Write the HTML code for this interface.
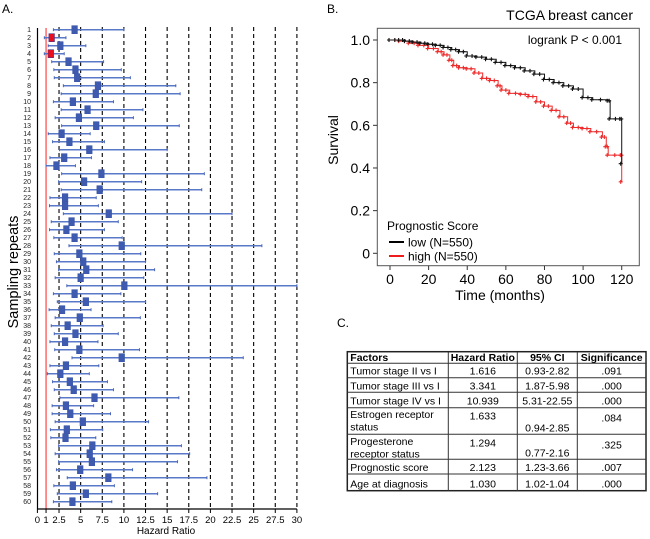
<!DOCTYPE html>
<html><head><meta charset="utf-8"><style>
html,body{margin:0;padding:0;background:#fff;}
svg{display:block;font-family:"Liberation Sans",Arial,sans-serif;}
</style></head><body>
<svg id="fig" width="650" height="539" viewBox="0 0 650 539">
<text x="2" y="13" font-size="12">A.</text>
<text x="327" y="13" font-size="12">B.</text>
<text x="337" y="327" font-size="12">C.</text>
<g id="forest"></g>
<g id="km"></g>
<g id="tbl"></g>
</svg>
<script>
// ---------- Panel A data ----------
const hrValues=[4.3,1.65,2.65,1.55,3.6,4.4,4.6,7.0,6.75,4.1,5.8,4.8,6.8,2.8,3.7,6.0,3.1,2.2,7.4,5.4,7.2,3.2,3.2,8.25,3.95,3.35,4.3,9.75,4.85,5.3,5.65,5.0,10.05,4.3,5.6,2.85,4.9,3.5,4.4,3.2,4.85,9.75,3.3,2.65,3.75,4.2,6.6,3.3,3.8,5.25,3.4,3.25,6.35,6.05,6.3,4.95,8.2,4.1,5.6,4.05];
const ciLower=[1.85,0.8,1.25,0.8,1.65,1.9,1.95,3.0,2.75,1.85,2.75,2.05,2.8,1.25,1.75,2.55,1.45,1.0,2.8,2.45,2.75,1.45,1.4,3.0,1.6,1.4,1.9,3.65,1.95,2.2,2.45,2.05,3.4,1.85,2.3,1.35,2.05,1.6,1.95,1.45,2.0,4.0,1.45,1.15,1.75,1.95,2.6,1.7,1.7,2.05,1.5,1.55,2.45,2.05,2.45,2.2,3.45,1.9,2.3,1.85];
const ciUpper=[10.0,3.3,5.6,3.1,7.65,9.7,10.75,16.0,16.5,8.8,12.2,11.1,16.4,6.1,7.75,15.0,6.25,4.4,19.3,12.05,19.0,6.8,7.05,22.5,9.35,7.75,9.8,25.95,11.95,12.5,13.55,12.3,30,9.65,12.5,6.2,11.9,7.6,9.35,7.0,11.8,23.8,7.1,6.0,8.1,8.8,16.35,6.5,8.45,12.85,7.55,6.75,16.65,17.6,16.2,11.0,19.6,8.9,13.9,8.6];
const xTicks=[0,1,2.5,5,7.5,10,12.5,15,17.5,20,22.5,25,27.5,30];
const xTickLabels=["0","1","2.5","5","7.5","10","12.5","15","17.5","20","22.5","25","27.5","30"];
const gridVals=[2.5,5,7.5,10,12.5,15,17.5,20,22.5,25,27.5,30];
const redRows=[2,4];
// ---------- Panel B data ----------
const lowT=[0,5,8,12,16,20,24,28,32,36,40,45,50,55,60,65,70,75,80,85,90,95,100,105,113,114,119.5,120];
const lowS=[1,1,0.995,0.99,0.985,0.98,0.975,0.965,0.955,0.945,0.925,0.92,0.91,0.895,0.88,0.87,0.855,0.84,0.815,0.8,0.785,0.77,0.73,0.72,0.715,0.63,0.63,0.42];
const highT=[0,5,10,15,20,25,28,31,33,36,40,44,48,52,56,58,62,68,72,76,80,84,88,92,95,100,104,110,112,113,119.8,120];
const highS=[1,0.995,0.985,0.975,0.96,0.945,0.93,0.905,0.88,0.87,0.865,0.845,0.82,0.81,0.785,0.765,0.75,0.745,0.735,0.71,0.69,0.67,0.64,0.61,0.59,0.585,0.57,0.545,0.5,0.46,0.46,0.335];
const kmXTicks=[0,20,40,60,80,100,120];
const kmYTicks=[0,0.2,0.4,0.6,0.8,1.0];
const kmYLabels=["0","0.2","0.4","0.6","0.8","1.0"];
// ---------- Panel C data ----------
const tblHeader=["Factors","Hazard Ratio","95% CI","Significance"];
const tblFactors=[["Tumor stage II vs I"],["Tumor stage III vs I"],["Tumor stage IV vs I"],["Estrogen receptor","status"],["Progesterone","receptor status"],["Prognostic score"],["Age at diagnosis"]];
const tblHR=["1.616","3.341","10.939","1.633","1.294","2.123","1.030"];
const tblCI=["0.93-2.82","1.87-5.98","5.31-22.55","0.94-2.85","0.77-2.16","1.23-3.66","1.02-1.04"];
const tblSig=[".091",".000",".000",".084",".325",".007",".000"];

const NS="http://www.w3.org/2000/svg";
function mk(tag,attrs,parent){const e=document.createElementNS(NS,tag);for(const k in attrs)e.setAttribute(k,attrs[k]);parent.appendChild(e);return e;}

// ---------- Panel A ----------
(function(){
const g=document.getElementById('forest');
const x=v=>37.4+v*8.65;
const y=i=>29.7+i*8.0;
const top=27,bot=509;
gridVals.forEach(v=>{
 const l=mk('line',{x1:x(v),x2:x(v),y1:top,y2:bot,stroke:'#000','stroke-width':1.1,'stroke-dasharray':'4,3'},g);
 
 
});
const rl=mk('line',{x1:x(1),x2:x(1),y1:28,y2:bot,stroke:'#ff2020','stroke-width':1},g);


const ya=mk('line',{x1:37.5,x2:37.5,y1:28,y2:bot,stroke:'#000','stroke-width':1.2},g);


const xa=mk('line',{x1:37,x2:x(30),y1:bot,y2:bot,stroke:'#000','stroke-width':1.2},g);


xTicks.forEach((v,i)=>{
 const t=mk('line',{x1:x(v),x2:x(v),y1:bot,y2:bot+4,stroke:'#000','stroke-width':1},g);
 
 
 const tx=mk('text',{x:x(v),y:523,'font-size':9.5,'text-anchor':'middle'},g);
 tx.textContent=xTickLabels[i];
 
 
});
const xt=mk('text',{x:166,y:534,'font-size':10,'text-anchor':'middle'},g);
xt.textContent='Hazard Ratio';


const yt=mk('text',{x:0,y:0,'font-size':14.5,'text-anchor':'middle',transform:'translate(18,272) rotate(-90)'},g);
yt.textContent='Sampling repeats';


hrValues.forEach((hr,i)=>{
 const yy=y(i);
 const lb=mk('text',{x:31,y:yy+2.5,'font-size':7,'text-anchor':'end',fill:'#222'},g);
 lb.textContent=String(i+1);
 
 
 const ci=mk('line',{x1:x(ciLower[i]),x2:x(ciUpper[i]),y1:yy,y2:yy,stroke:'#5a78c8','stroke-width':1.5},g);
 
 
 [ciLower[i],ciUpper[i]].forEach(v=>{
  const c=mk('line',{x1:x(v),x2:x(v),y1:yy-1.5,y2:yy+1.5,stroke:'#4a68b8','stroke-width':1},g);
  
  
 });
 const red=redRows.includes(i+1);
 const b=mk('rect',{x:x(hr)-2.8,y:yy-4,width:5.6,height:8,fill:red?'#e8101e':'#3f5bb0',stroke:red?'#4a3a8a':'#3a55a8','stroke-width':0.6},g);
 
 
});
})();

// ---------- Panel B ----------
(function(){
const g=document.getElementById('km');
const x=t=>390+t*1.931;
const y=s=>253.3-s*213.3;
const fr=mk('rect',{x:377.3,y:28.3,width:262,height:237.4,fill:'none',stroke:'#555','stroke-width':1},g);


kmXTicks.forEach(v=>{
 const t=mk('line',{x1:x(v),x2:x(v),y1:265.7,y2:270,stroke:'#333'},g);
 
 
 const tx=mk('text',{x:x(v),y:284,'font-size':14,'text-anchor':'middle'},g);
 tx.textContent=String(v);
 
 
});
kmYTicks.forEach((v,i)=>{
 const t=mk('line',{x1:373,x2:377.3,y1:y(v),y2:y(v),stroke:'#333'},g);
 
 
 const tx=mk('text',{x:370,y:y(v)+5,'font-size':14,'text-anchor':'end'},g);
 tx.textContent=kmYLabels[i];
 
 
});
const xt=mk('text',{x:500,y:300,'font-size':14,'text-anchor':'middle'},g);
xt.textContent='Time (months)';


const yt=mk('text',{x:0,y:0,'font-size':14,'text-anchor':'middle',transform:'translate(338,140) rotate(-90)'},g);
yt.textContent='Survival';


const ti=mk('text',{x:633,y:20,'font-size':14,'text-anchor':'end'},g);
ti.textContent='TCGA breast cancer';


const lr=mk('text',{x:622,y:44,'font-size':12,'text-anchor':'end'},g);
lr.textContent='logrank P < 0.001';


function mark(cx,cy,col,name){
 const c=mk('path',{d:'M'+(cx-2)+','+cy+' h4 M'+cx+','+(cy-2)+' v4',stroke:col,'stroke-width':1.1},g);
 
 
}
function curve(T,S,col,name){
 let d='M'+x(T[0])+','+y(S[0]);
 for(let i=1;i<T.length;i++){d+=' H'+x(T[i])+' V'+y(S[i]);}
 const p=mk('path',{d:d,fill:'none',stroke:col,'stroke-width':1},g);
 
 
 for(let i=0;i<T.length;i++){
  mark(x(T[i])-1,y(S[i]),col,name);
  if(i<T.length-1){mark((x(T[i])+x(T[i+1]))/2,y(S[i]),col,name);}
 }
}
curve(highT,highS,'#ee2a2a','high');
curve(lowT,lowS,'#111','low');
const lg=mk('text',{x:387,y:230,'font-size':12},g);
lg.textContent='Prognostic Score';


[['#000','low (N=550)',242,'legend-low'],['#ee1c1c','high (N=550)',256,'legend-high']].forEach(a=>{
 const l=mk('line',{x1:389,x2:404,y1:a[2],y2:a[2],stroke:a[0],'stroke-width':2},g);
 
 
 const t=mk('text',{x:408,y:a[2]+4.5,'font-size':12},g);
 t.textContent=a[1];
 
 
});
})();

// ---------- Panel C ----------
(function(){
const g=document.getElementById('tbl');
const cols=[347.3,448.3,517.3,577.3,646];
const rows=[351.7,363.3,377.7,392.3,407.7,434.3,459.3,474,490.7];
const bg=mk('rect',{x:cols[0],y:rows[0],width:cols[4]-cols[0],height:rows[8]-rows[0],fill:'#fff',stroke:'#222','stroke-width':1.5},g);


for(let i=1;i<8;i++){const l=mk('line',{x1:cols[0],x2:cols[4],y1:rows[i],y2:rows[i],stroke:'#333','stroke-width':1},g);}
for(let j=1;j<4;j++){const l=mk('line',{x1:cols[j],x2:cols[j],y1:rows[0],y2:rows[8],stroke:'#333','stroke-width':1},g);}
tblHeader.forEach((h,j)=>{
 const t=mk('text',{x:j===0?cols[0]+3:(cols[j]+cols[j+1])/2,y:rows[1]-2.5,'font-size':10.5,'font-weight':'bold','text-anchor':j===0?'start':'middle'},g);
 t.textContent=h;
 
 
});
tblFactors.forEach((f,i)=>{
 const r0=rows[i+1],r1=rows[i+2];
 if(f.length===1){
  const t=mk('text',{x:cols[0]+3,y:r1-3,'font-size':10.5},g);t.textContent=f[0];
  
 }else{
  f.forEach((s,k)=>{const t=mk('text',{x:cols[0]+3,y:r0+10.5+k*12.5,'font-size':10.5},g);t.textContent=s;
  });
 }
 const two=f.length>1;
 const vals=[[tblHR[i],two?r0+12:r1-3],[tblCI[i],r1-3],[tblSig[i],two?r0+14:r1-3]];
 vals.forEach((v,k)=>{
  const t=mk('text',{x:(cols[k+1]+cols[k+2])/2,y:v[1],'font-size':10.5,'text-anchor':'middle'},g);
  t.textContent=v[0];
  
  
 });
});
})();
</script>
</body></html>
